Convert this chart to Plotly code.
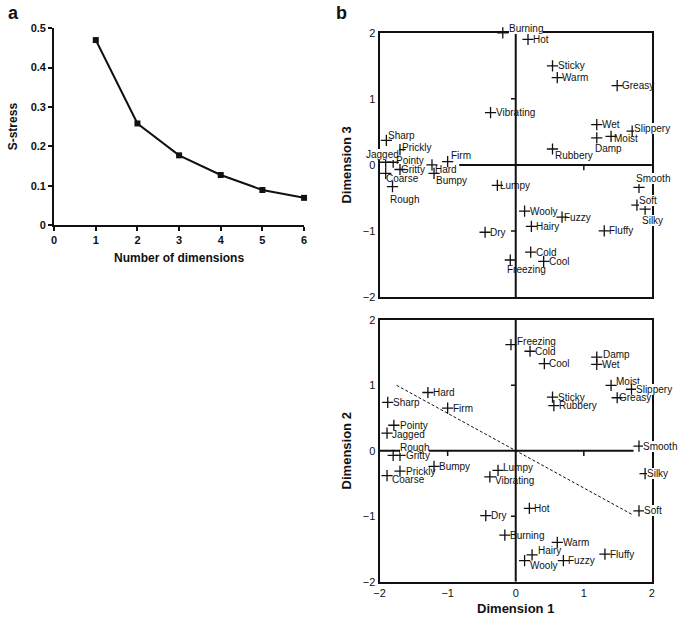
import plotly.graph_objects as go

# ---------------- data ----------------
n_dims = [1, 2, 3, 4, 5, 6]
s_stress = [0.47, 0.258, 0.177, 0.127, 0.089, 0.069]

top_names = ["Burning", "Hot", "Sticky", "Warm", "Greasy", "Vibrating", "Wet", "Slippery",
             "Moist", "Damp", "Rubbery", "Sharp", "Prickly", "Jagged", "Pointy", "Gritty",
             "Coarse", "Rough", "Firm", "Hard", "Bumpy", "Lumpy", "Wooly", "Fuzzy", "Hairy",
             "Fluffy", "Dry", "Cold", "Cool", "Freezing", "Smooth", "Soft", "Silky"]
top_dim1 = [-0.19, 0.18, 0.54, 0.61, 1.49, -0.37, 1.19, 1.71,
            1.40, 1.19, 0.54, -1.90, -1.70, -1.91, -1.80, -1.70,
            -1.91, -1.81, -1.00, -1.23, -1.20, -0.27, 0.13, 0.68, 0.23,
            1.30, -0.45, 0.22, 0.41, -0.08, 1.81, 1.78, 1.90]
top_dim3 = [2.00, 1.90, 1.50, 1.32, 1.20, 0.79, 0.61, 0.51,
            0.43, 0.41, 0.24, 0.37, 0.23, 0.04, 0.04, -0.07,
            -0.13, -0.33, 0.05, 0.00, -0.13, -0.31, -0.70, -0.79, -0.93,
            -1.00, -1.02, -1.32, -1.46, -1.44, -0.34, -0.61, -0.67]

bot_names = ["Freezing", "Cold", "Cool", "Damp", "Wet", "Moist", "Slippery", "Greasy",
             "Sticky", "Rubbery", "Hard", "Firm", "Sharp", "Pointy", "Jagged", "Rough",
             "Gritty", "Prickly", "Coarse", "Bumpy", "Lumpy", "Vibrating", "Dry", "Hot",
             "Burning", "Warm", "Hairy", "Wooly", "Fuzzy", "Fluffy", "Smooth", "Silky", "Soft"]
bot_dim1 = [-0.07, 0.21, 0.42, 1.19, 1.19, 1.40, 1.70, 1.49,
            0.54, 0.56, -1.29, -1.00, -1.88, -1.79, -1.89, -1.80,
            -1.70, -1.70, -1.89, -1.20, -0.26, -0.38, -0.44, 0.20,
            -0.16, 0.61, 0.24, 0.13, 0.70, 1.31, 1.81, 1.90, 1.81]
bot_dim2 = [1.62, 1.52, 1.33, 1.43, 1.32, 1.00, 0.94, 0.81,
            0.82, 0.69, 0.89, 0.65, 0.74, 0.39, 0.27, -0.07,
            -0.07, -0.31, -0.38, -0.24, -0.30, -0.40, -0.99, -0.88,
            -1.29, -1.40, -1.59, -1.68, -1.68, -1.58, 0.07, -0.35, -0.92]

split_x = [-1.75, 1.72]
split_y = [1.00, -0.98]

dim_ticks = [-2, -1, 0, 1, 2]

# ---------------- label styling (xanchor, xshift, yshift, white bg) ----------------
top_style = {
    "Burning": ("left", 6, 4, True), "Slippery": ("left", 2, 3, True),
    "Moist": ("left", 3, -2, False), "Damp": ("left", -2, -11, False),
    "Rubbery": ("left", 2, -6, False), "Sharp": ("left", 2, 5, False),
    "Prickly": ("left", 2, 2, False), "Jagged": ("right", 13, 8, True),
    "Pointy": ("left", 3, 2, False), "Gritty": ("left", 1, 0, False),
    "Coarse": ("left", 0, -5, False), "Rough": ("left", -2, -13, False),
    "Firm": ("left", 3, 6, False), "Hard": ("left", 3, -5, False),
    "Bumpy": ("left", 2, -7, False), "Lumpy": ("left", 3, 0, False),
    "Fuzzy": ("left", 2, 0, False), "Freezing": ("left", -3, -10, False),
    "Smooth": ("left", -3, 9, True), "Soft": ("left", 2, 5, True),
    "Silky": ("left", -3, -11, True),
}
bot_style = {
    "Freezing": ("left", 6, 3, False), "Damp": ("left", 6, 3, False),
    "Moist": ("left", 5, 4, False), "Slippery": ("left", 5, 0, True),
    "Greasy": ("left", 2, 0, False), "Pointy": ("left", 6, 0, False),
    "Jagged": ("left", 5, -1, False), "Rough": ("left", 7, 8, True),
    "Gritty": ("left", 6, 0, False), "Prickly": ("left", 6, 0, False),
    "Coarse": ("left", 5, -4, False), "Lumpy": ("left", 5, 3, False),
    "Vibrating": ("left", 5, -4, False), "Warm": ("left", 6, 0, False),
    "Hairy": ("left", 6, 4, False), "Wooly": ("left", 5, -5, False),
    "Smooth": ("left", 4, 0, True), "Silky": ("left", 2, 0, True),
    "Soft": ("left", 5, 0, True),
}

FONT = "Liberation Sans, Arial, Helvetica, sans-serif"
INK = "#111111"

fig = go.Figure()

# Panel a
fig.add_trace(go.Scatter(
    x=n_dims, y=s_stress, mode="lines+markers", xaxis="x", yaxis="y",
    line=dict(color=INK, width=2),
    marker=dict(symbol="square", size=6, color=INK),
    cliponaxis=False, showlegend=False, hoverinfo="skip"))

cross = dict(symbol="cross-thin", size=8, line=dict(color=INK, width=1.3), color=INK)

# Panel b top
fig.add_trace(go.Scatter(x=top_dim1, y=top_dim3, mode="markers", xaxis="x2", yaxis="y2",
                         marker=cross, cliponaxis=False, showlegend=False, hoverinfo="skip"))
# Panel b bottom
fig.add_trace(go.Scatter(x=split_x, y=split_y, mode="lines", xaxis="x3", yaxis="y3",
                         line=dict(color=INK, width=1, dash="3px,2px"),
                         showlegend=False, hoverinfo="skip"))
fig.add_trace(go.Scatter(x=bot_dim1, y=bot_dim2, mode="markers", xaxis="x3", yaxis="y3",
                         marker=cross, cliponaxis=False, showlegend=False, hoverinfo="skip"))

annotations = []


def add_labels(names, xs, ys, style, xr, yr):
    for n, x, y in zip(names, xs, ys):
        xa, xs_, ys_, bg = style.get(n, ("left", 5, 0, False))
        annotations.append(dict(
            x=x, y=y, xref=xr, yref=yr, text=n, showarrow=False,
            xanchor=xa, yanchor="middle", xshift=xs_, yshift=ys_,
            font=dict(family=FONT, size=10, color=INK),
            bgcolor="white" if bg else "rgba(0,0,0,0)",
            borderpad=0, borderwidth=0))


add_labels(top_names, top_dim1, top_dim3, top_style, "x2", "y2")
add_labels(bot_names, bot_dim1, bot_dim2, bot_style, "x3", "y3")

# panel letters
annotations += [
    dict(text="<b>a</b>", x=0.0, y=1.0, xref="paper", yref="paper", xanchor="left",
         yanchor="top", yshift=5, showarrow=False, font=dict(family=FONT, size=18, color=INK)),
    dict(text="<b>b</b>", x=0.485, y=1.0, xref="paper", yref="paper", xanchor="left",
         yanchor="top", yshift=5, showarrow=False, font=dict(family=FONT, size=18, color=INK)),
]
fig.update_layout(annotations=annotations)

# zero lines with tick marks inside panel b
line_style = dict(color=INK, width=2)
tick_style = dict(color=INK, width=1.5)
shapes = [
    dict(type="line", xref="x2", yref="y2", x0=0, x1=0, y0=-2, y1=2, line=line_style, layer="below"),
    dict(type="line", xref="x2", yref="y2", x0=-0.83, x1=2, y0=0, y1=0, line=line_style, layer="below"),
    dict(type="line", xref="x2", yref="y2", x0=-0.07, x1=0, y0=1, y1=1, line=tick_style, layer="below"),
    dict(type="line", xref="x2", yref="y2", x0=-0.07, x1=0, y0=-1, y1=-1, line=tick_style, layer="below"),
    dict(type="line", xref="x2", yref="y2", x0=1, x1=1, y0=0, y1=-0.08, line=tick_style, layer="below"),
    dict(type="line", xref="x3", yref="y3", x0=0, x1=0, y0=-2, y1=2, line=line_style, layer="below"),
    dict(type="line", xref="x3", yref="y3", x0=-2, x1=1.73, y0=0, y1=0, line=line_style, layer="below"),
    dict(type="line", xref="x3", yref="y3", x0=-0.07, x1=0, y0=1, y1=1, line=tick_style, layer="below"),
    dict(type="line", xref="x3", yref="y3", x0=-0.07, x1=0, y0=-1, y1=-1, line=tick_style, layer="below"),
    dict(type="line", xref="x3", yref="y3", x0=-1, x1=-1, y0=0, y1=-0.08, line=tick_style, layer="below"),
    dict(type="line", xref="x3", yref="y3", x0=1, x1=1, y0=0, y1=-0.08, line=tick_style, layer="below"),
]

fig.update_layout(
    width=685, height=622, margin=dict(l=0, r=0, t=0, b=0),
    paper_bgcolor="white", plot_bgcolor="white",
    font=dict(family=FONT, color=INK),
    shapes=shapes,
    xaxis=dict(domain=[0.0712, 0.4409], range=[0, 6], anchor="y",
               tickvals=[0, 1, 2, 3, 4, 5, 6], ticktext=[f"<b>{v}</b>" for v in [0, 1, 2, 3, 4, 5, 6]],
               showline=True, linecolor=INK, linewidth=2, ticks="outside", ticklen=4,
               tickwidth=1.5, tickcolor=INK, showgrid=False, zeroline=False,
               tickfont=dict(family=FONT, size=11, color=INK),
               title=dict(text="<b>Number of dimensions</b>", font=dict(family=FONT, size=12, color=INK),
                          standoff=8)),
    yaxis=dict(domain=[0.641, 0.9635], range=[0, 0.5], anchor="x",
               tickvals=[0, 0.1, 0.2, 0.3, 0.4, 0.5],
               ticktext=["<b>0</b>", "<b>0.1</b>", "<b>0.2</b>", "<b>0.3</b>", "<b>0.4</b>", "<b>0.5</b>"],
               showline=True, linecolor=INK, linewidth=2, ticks="outside", ticklen=4,
               tickwidth=1.5, tickcolor=INK, showgrid=False, zeroline=False,
               tickfont=dict(family=FONT, size=11, color=INK),
               title=dict(text="<b>S-stress</b>", font=dict(family=FONT, size=12, color=INK),
                          standoff=10)),
    xaxis2=dict(domain=[0.5526, 0.9555], range=[-2, 2], anchor="y2",
                showline=True, mirror=True, linecolor=INK, linewidth=2,
                showticklabels=False, ticks="", showgrid=False, zeroline=False),
    yaxis2=dict(domain=[0.523, 0.9561], range=[-2, 2], anchor="x2",
                tickvals=dim_ticks, showline=True, mirror=True, linecolor=INK, linewidth=2,
                ticks="", showgrid=False, zeroline=False,
                tickfont=dict(family=FONT, size=11, color=INK),
                title=dict(text="<b>Dimension 3</b>", font=dict(family=FONT, size=13, color=INK),
                           standoff=8)),
    xaxis3=dict(domain=[0.5526, 0.9555], range=[-2, 2], anchor="y3",
                tickvals=dim_ticks, showline=True, mirror=True, linecolor=INK, linewidth=2,
                ticks="", showgrid=False, zeroline=False,
                tickfont=dict(family=FONT, size=11, color=INK),
                title=dict(text="<b>Dimension 1</b>", font=dict(family=FONT, size=13, color=INK),
                           standoff=6)),
    yaxis3=dict(domain=[0.0563, 0.4855], range=[-2, 2], anchor="x3",
                tickvals=dim_ticks, showline=True, mirror=True, linecolor=INK, linewidth=2,
                ticks="", showgrid=False, zeroline=False,
                tickfont=dict(family=FONT, size=11, color=INK),
                title=dict(text="<b>Dimension 2</b>", font=dict(family=FONT, size=13, color=INK),
                           standoff=8)),
)

fig.write_html("out.html", config={"displayModeBar": False},
               post_script="document.body.style.margin='0';document.body.style.overflow='hidden';")
